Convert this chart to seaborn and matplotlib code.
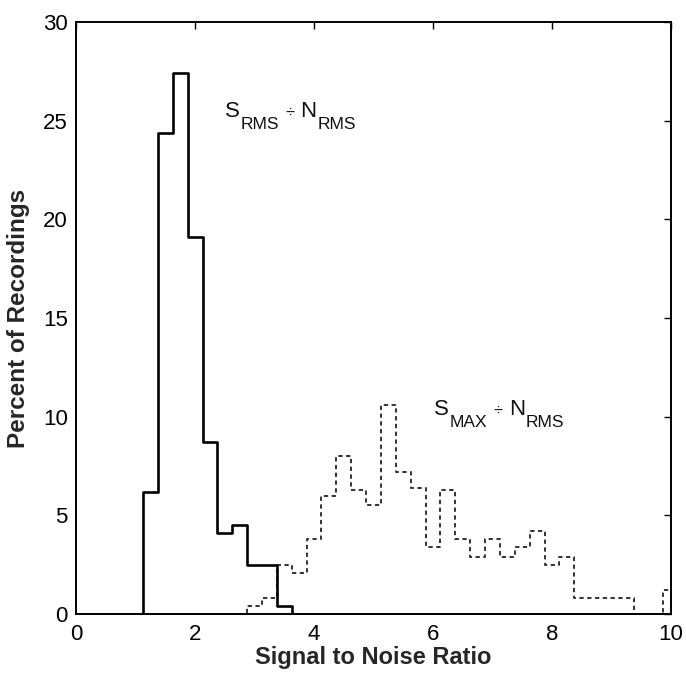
import numpy as np
import pandas as pd
import matplotlib
matplotlib.use("Agg")
import matplotlib.pyplot as plt
import seaborn as sns

# Bin centers (width 0.25) and percent of recordings
centers = [round(0.25 * i, 2) for i in range(41)]

rms_bins = [1.25, 1.5, 1.75, 2.0, 2.25, 2.5, 2.75, 3.0, 3.25, 3.5]
rms_vals = [6.2, 24.4, 27.4, 19.1, 8.7, 4.1, 4.5, 2.5, 2.5, 0.4]

max_bins = [3.0, 3.25, 3.5, 3.75, 4.0, 4.25, 4.5, 4.75, 5.0, 5.25, 5.5, 5.75,
            6.0, 6.25, 6.5, 6.75, 7.0, 7.25, 7.5, 7.75, 8.0, 8.25, 8.5, 8.75,
            9.0, 9.25, 9.5, 9.75, 10.0]
max_vals = [0.4, 0.8, 2.5, 2.1, 3.8, 6.0, 8.0, 6.3, 5.5, 10.6, 7.2, 6.4,
            3.4, 6.3, 3.8, 2.9, 3.8, 2.9, 3.4, 4.2, 2.5, 2.9, 0.8, 0.8,
            0.8, 0.8, 0.0, 0.0, 1.2]

x_ticks = [0, 2, 4, 6, 8, 10]
y_ticks = [0, 5, 10, 15, 20, 25, 30]

def full(bins, vals):
    d = dict(zip(bins, vals))
    return [d.get(c, 0.0) for c in centers]

df_rms = pd.DataFrame({"snr": centers, "pct": full(rms_bins, rms_vals)})
df_max = pd.DataFrame({"snr": centers, "pct": full(max_bins, max_vals)})

sns.set_style("white")
plt.rcParams["font.family"] = ["Liberation Sans", "DejaVu Sans"]

DPI = 100
fig = plt.figure(figsize=(6.86, 6.75), dpi=DPI)
ax = fig.add_axes([0.111, 0.0904, 0.867, 0.877])

edges = [-0.125 + 0.25 * i for i in range(42)]

sns.histplot(data=df_max, x="snr", weights="pct", bins=edges, element="step",
             fill=False, color="#333333", linewidth=1.4, linestyle=(0, (2.2, 1.8)), ax=ax)
sns.histplot(data=df_rms, x="snr", weights="pct", bins=edges, element="step",
             fill=False, color="black", linewidth=1.9, ax=ax)

ax.set_xlim(0, 10)
ax.set_ylim(0, 30)
ax.set_xticks(x_ticks)
ax.set_yticks(y_ticks)
ax.tick_params(direction="in", length=5, width=1.0, labelsize=16,
               top=True, right=True, colors="black")
ax.tick_params(axis="x", pad=7)
ax.tick_params(axis="y", pad=6)
for s in ax.spines.values():
    s.set_visible(True)
    s.set_linewidth(1.4)
    s.set_color("black")

ax.set_xlabel("Signal to Noise Ratio", fontsize=17, fontweight="bold", labelpad=1)
ax.set_ylabel("Percent of Recordings", fontsize=17.5, fontweight="bold", labelpad=9)

renderer = fig.canvas.get_renderer()

def rich_label(x, y, parts):
    """parts: list of (text, fontsize, drop_px, gap_px_before)"""
    off = 0.0
    for txt, size, drop, gap in parts:
        off += gap
        t = ax.annotate(txt, xy=(x, y), xycoords="data",
                        xytext=(off * 72 / DPI, -drop * 72 / DPI),
                        textcoords="offset points", ha="left", va="baseline",
                        fontsize=size, color="#111111")
        off += t.get_window_extent(renderer).width

def ratio_parts(sub1):
    return [("S", 16, 0, 0), (sub1, 12.5, 12, 1), ("÷", 12, 1, 6),
            ("N", 16, 0, 6), ("RMS", 12.5, 12, 1)]

rich_label(2.5, 25.2, ratio_parts("RMS"))
rich_label(6.02, 10.1, ratio_parts("MAX"))

fig.savefig("out.png", dpi=DPI, facecolor="white")
